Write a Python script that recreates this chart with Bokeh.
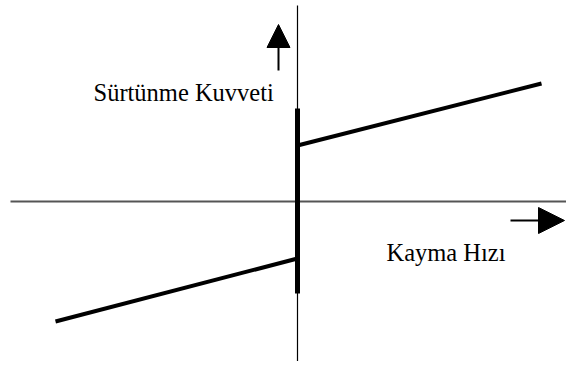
from bokeh.plotting import figure
from bokeh.models import Range1d, Arrow, NormalHead, Label
from bokeh.embed import file_html
from bokeh.resources import INLINE

# Friction force vs slip velocity (schematic, arbitrary units)
stick_velocity = [0.0, 0.0]
stick_force = [-0.92, 0.93]
slip_pos_velocity = [0.0, 2.44]
slip_pos_force = [0.56, 1.18]
slip_neg_velocity = [-2.42, 0.0]
slip_neg_force = [-1.20, -0.57]

axis_x_extent = [-2.87, 2.85]
axis_y_extent = [-1.70, 1.96]

y_label = "Sürtünme Kuvveti"
x_label = "Kayma Hızı"
y_label_pos = (-2.04, 1.09)
x_label_pos = (0.89, -0.51)
y_arrow = (-0.19, 1.31, -0.19, 1.77)
x_arrow = (2.13, -0.19, 2.67, -0.19)

p = figure(width=566, height=361, output_backend="svg", toolbar_location=None,
           x_range=Range1d(-2.97, 2.69), y_range=Range1d(-1.60, 2.01),
           min_border=0, min_border_left=0, min_border_right=0,
           min_border_top=0, min_border_bottom=0)
p.axis.visible = False
p.grid.visible = False
p.outline_line_color = None
p.background_fill_color = "white"
p.border_fill_color = "white"

# coordinate axes
p.line(axis_x_extent, [0, 0], line_color="#555555", line_width=2)
p.line([0, 0], axis_y_extent, line_color="black", line_width=1.2)

# characteristic
p.line(stick_velocity, stick_force, line_color="black", line_width=5, line_cap="butt")
p.line(slip_pos_velocity, slip_pos_force, line_color="black", line_width=4, line_cap="butt")
p.line(slip_neg_velocity, slip_neg_force, line_color="black", line_width=4, line_cap="butt")

# arrows
p.add_layout(Arrow(x_start=y_arrow[0], y_start=y_arrow[1], x_end=y_arrow[2], y_end=y_arrow[3],
                   line_color="black", line_width=2,
                   end=NormalHead(size=23, fill_color="black", line_color="black", line_width=1)))
p.add_layout(Arrow(x_start=x_arrow[0], y_start=x_arrow[1], x_end=x_arrow[2], y_end=x_arrow[3],
                   line_color="black", line_width=2,
                   end=NormalHead(size=26, fill_color="black", line_color="black", line_width=1)))

# labels
p.add_layout(Label(x=y_label_pos[0], y=y_label_pos[1], text=y_label, text_font="Liberation Serif",
                   text_font_size="24.5px", text_color="black", text_baseline="alphabetic"))
p.add_layout(Label(x=x_label_pos[0], y=x_label_pos[1], text=x_label, text_font="Liberation Serif",
                   text_font_size="24.5px", text_color="black", text_baseline="alphabetic"))

open("out.html", "w").write(file_html(p, INLINE))
